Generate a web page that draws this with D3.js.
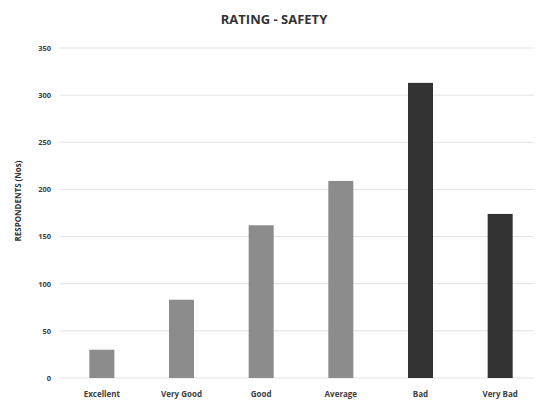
<!DOCTYPE html>
<html>
<head>
<meta charset="utf-8">
<script src="https://cdn.jsdelivr.net/npm/d3@7/dist/d3.min.js"></script>
<style>
  html, body { margin: 0; padding: 0; background: #fff; }
  svg { display: block; font-family: "Open Sans", "Liberation Sans", sans-serif; }
</style>
</head>
<body>
<svg id="chart" width="540" height="403"></svg>
<script>
// Survey responses: safety rating
const categories = ["Excellent", "Very Good", "Good", "Average", "Bad", "Very Bad"];
const respondents = [30, 83, 162, 209, 313, 174];
const barColors = ["#8c8c8c", "#8c8c8c", "#8c8c8c", "#8c8c8c", "#333333", "#333333"];
const yTicks = [0, 50, 100, 150, 200, 250, 300, 350];

const svg = d3.select("#chart");

const x = d3.scaleBand()
  .domain(categories)
  .range([62, 540])
  .paddingInner(0.686)
  .paddingOuter(0.343);

const y = d3.scaleLinear()
  .domain([0, 350])
  .range([378, 48]);

// horizontal gridlines
svg.append("g")
  .selectAll("line")
  .data(yTicks)
  .join("line")
  .attr("x1", 60)
  .attr("x2", 534)
  .attr("y1", d => y(d))
  .attr("y2", d => y(d))
  .attr("stroke", "#e3e3e3")
  .attr("stroke-width", 1);

// y axis labels
const yAxis = d3.axisLeft(y).tickValues(yTicks).tickSize(0).tickPadding(0);
svg.append("g")
  .attr("transform", "translate(51,0)")
  .call(yAxis)
  .call(g => g.select(".domain").remove())
  .call(g => g.selectAll("text")
    .attr("font-size", 7.5)
    .attr("font-weight", "bold")
    .attr("fill", "#404040")
    .attr("font-family", "'Open Sans', sans-serif"));

// bars
svg.append("g")
  .selectAll("rect")
  .data(categories)
  .join("rect")
  .attr("x", d => x(d))
  .attr("width", x.bandwidth())
  .attr("y", (d, i) => y(respondents[i]))
  .attr("height", (d, i) => y(0) - y(respondents[i]))
  .attr("fill", (d, i) => barColors[i]);

// x axis labels
const xAxis = d3.axisBottom(x).tickSize(0).tickPadding(0);
svg.append("g")
  .attr("transform", "translate(0,391)")
  .call(xAxis)
  .call(g => g.select(".domain").remove())
  .call(g => g.selectAll("text")
    .attr("font-size", 8)
    .attr("font-weight", "bold")
    .attr("fill", "#404040")
    .attr("font-family", "'Open Sans', sans-serif"));

// title
svg.append("text")
  .attr("x", 274)
  .attr("y", 24)
  .attr("text-anchor", "middle")
  .attr("font-size", 13)
  .attr("font-weight", "bold")
  .attr("fill", "#333")
  .text("RATING - SAFETY");

// y axis title
svg.append("text")
  .attr("transform", "translate(21,201) rotate(-90)")
  .attr("text-anchor", "middle")
  .attr("font-size", 8)
  .attr("font-weight", "bold")
  .attr("fill", "#333")
  .text("RESPONDENTS (Nos)");
</script>
</body>
</html>
